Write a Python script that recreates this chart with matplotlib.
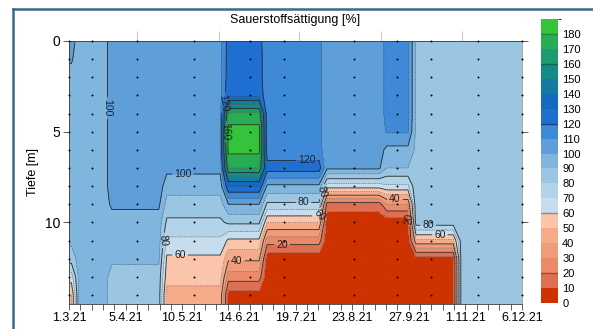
import numpy as np
import pandas as pd
import matplotlib
matplotlib.use("Agg")
import matplotlib.pyplot as plt
import matplotlib.dates as mdates
from matplotlib.colors import ListedColormap, BoundaryNorm
from matplotlib.lines import Line2D

plt.rcParams.update({
    "font.family": ["Liberation Sans", "DejaVu Sans"],
    "font.size": 9,
    "axes.linewidth": 0.6,
})

# ── Data: sampling dates (columns) and depths (rows) ─────────
sample_dates = pd.to_datetime([
    "2021-03-01", "2021-03-15", "2021-04-12", "2021-05-17", "2021-06-21",
    "2021-07-12", "2021-08-24", "2021-09-20", "2021-10-11", "2021-11-09",
    "2021-12-06"])
depths = np.arange(0, 15)

# oxygen saturation [%], depth 0..14 m
o2_0103 = [104, 101, 97, 96, 96, 96, 96, 96, 96, 96, 96, 92, 85, 65, 50]
o2_1503 = [95, 95, 95, 95, 95, 95, 95, 95, 95, 95, 95, 95, 94, 94, 94]
o2_1204 = [106, 106, 106, 106, 106, 106, 106, 106, 106, 102, 95, 94, 92, 86, 85]
o2_1705 = [107, 107, 107, 107, 107, 107, 107, 103, 94, 86, 78, 68, 58, 54, 46]
o2_2106 = [124, 125, 125, 128, 172, 185, 183, 170, 130, 100, 82, 58, 42, 25, 5]
o2_1207 = [112, 112, 112, 112, 112, 112, 113, 125, 98, 78, 50, 25, 3, 2, 2]
o2_2408 = [105, 105, 105, 105, 105, 105, 105, 102, 65, 15, 3, 3, 3, 3, 3]
o2_2009 = [113, 113, 113, 113, 113, 111, 97, 90, 68, 30, 3, 3, 3, 3, 3]
o2_1110 = [88, 88, 88, 88, 88, 88, 88, 88, 88, 88, 86, 48, 5, 3, 3]
o2_0911 = [85, 85, 85, 85, 85, 85, 85, 85, 85, 85, 85, 85, 85, 85, 85]
o2_0612 = [85, 85, 85, 85, 85, 85, 85, 85, 85, 85, 85, 85, 85, 85, 85]

# time extent of each sample block (boundaries between neighbouring samples)
block_edges = pd.to_datetime([
    "2021-03-05", "2021-03-25", "2021-04-28", "2021-06-05", "2021-06-29",
    "2021-08-05", "2021-09-11", "2021-09-29", "2021-10-27", "2021-11-22"])

tick_labels = ["1.3.21", "5.4.21", "10.5.21", "14.6.21", "19.7.21",
               "23.8.21", "27.9.21", "1.11.21", "6.12.21"]
top_ticks = pd.to_datetime(["2021-04-12", "2021-06-02", "2021-07-21",
                            "2021-09-10", "2021-10-30"])

level_colors = [
    "#cc3300", "#df6f52", "#ea8a69", "#f09b79", "#f5ab8a", "#fac5aa",
    "#c7dcec", "#b3d3e8", "#9ac6e1", "#80b6de", "#5e9fd9", "#3f8ad7",
    "#1f6fd2", "#1569bf", "#147a9e", "#168a88", "#1d9b6e", "#28ac54",
    "#33c43c"]
levels = np.arange(0, 200, 10)

# ── Gridding: each sample fills its block, short linear transitions ──
Z = np.column_stack([o2_0103, o2_1503, o2_1204, o2_1705, o2_2106, o2_1207,
                     o2_2408, o2_2009, o2_1110, o2_0911, o2_0612])
xs = mdates.date2num(sample_dates)
xe = mdates.date2num(block_edges)
half = 2.5
gx, gcol = [], []
for i in range(len(xs)):
    lo = xs[0] if i == 0 else xe[i - 1] + half
    hi = xs[-1] if i == len(xs) - 1 else xe[i] - half
    gx += [lo, hi]
    gcol += [i, i]
gx = np.array(gx)
gy = np.append(depths, 14.5)
Zg = Z[:, gcol]
Zg = np.vstack([Zg, Zg[-1]])

# ── Figure ──────────────────────────────────────────────────
W, H = 593, 329
fig = plt.figure(figsize=(W / 100, H / 100), dpi=100)
ax = fig.add_axes([69 / W, 1 - 304 / H, (522 - 69) / W, (304 - 41) / H])

cmap = ListedColormap(level_colors)
norm = BoundaryNorm(levels, cmap.N)
cf = ax.contourf(gx, gy, Zg, levels=levels, cmap=cmap, norm=norm)

ax.contour(gx, gy, Zg, levels=np.arange(10, 190, 20), colors="#4a4a4a",
           linewidths=0.4, linestyles=[(0, (2, 2))])
cs = ax.contour(gx, gy, Zg, levels=np.arange(20, 190, 20), colors="#2a2a2a",
                linewidths=0.6)

# label positions (days after first sample, depth)
lab_pos = [(23.5, 3.7), (94.6, 3.4), (96.8, 5.0), (147, 6.8), (70.5, 7.4),
           (156, 8.3), (145, 9.1), (155, 9.6), (59.3, 11.0), (68.6, 12.0),
           (103.8, 11.8), (131.6, 11.2), (201.5, 8.8), (209.5, 9.8),
           (221.9, 10.3), (229.3, 10.7)]
ax.clabel(cs, manual=[(xs[0] + d, z) for d, z in lab_pos], inline=True,
          inline_spacing=2, fontsize=7.5, fmt="%d", colors="#222222")

# sampling points
XX, YY = np.meshgrid(xs, depths)
ax.scatter(XX.ravel(), YY.ravel(), s=2, c="k", lw=0, clip_on=False, zorder=5)

ax.set_xlim(xs[0], xs[-1])
ax.set_ylim(14.5, 0)
tick_dates = pd.to_datetime(tick_labels, format="%d.%m.%y")
ax.set_xticks(mdates.date2num(tick_dates))
ax.set_xticklabels(tick_labels)
ax.xaxis.set_minor_locator(mdates.WeekdayLocator(byweekday=mdates.MO))
ax.set_yticks([0, 5, 10])
ax.tick_params(axis="x", which="both", length=4, width=0.6, pad=1.5,
               labelsize=9, color="#444444")
ax.tick_params(axis="y", length=4, width=0.6, pad=2, labelsize=10,
               right=True, color="#444444")
for s in ["left", "bottom", "top"]:
    ax.spines[s].set_color("#3a3a3a")
ax.spines["right"].set_color("#9a9a9a")

sec = ax.secondary_xaxis("top")
sec.set_xticks(mdates.date2num(top_ticks))
sec.set_xticklabels([])
sec.tick_params(length=7, width=0.8, color="#c8c8c8")
sec.spines["top"].set_color("#3a3a3a")

# colorbar
cax = fig.add_axes([541 / W, 1 - 303 / H, 17 / W, (303 - 19) / H])
cbar = fig.colorbar(cf, cax=cax, ticks=np.arange(0, 190, 10))
cbar.outline.set_visible(False)
cax.tick_params(length=0, labelsize=8, pad=3)
for v, c in [(20, "#a8452e"), (60, "#8a8a8a"), (120, "#1a3f86"),
             (160, "#10654f"), (180, "#1f8a3a")]:
    cax.axhline(v, color=c, lw=1.0)

fig.text(295.5 / W, 1 - 20 / H, "Sauerstoffsättigung [%]", ha="center",
         va="center", fontsize=9)
fig.text(33 / W, 1 - 172 / H, "Tiefe [m]", rotation=90, ha="center",
         va="center", fontsize=9)

# outer frame of the original figure
fc = "#3b6a84"
fig.add_artist(Line2D([13 / W, 13 / W], [0, 1 - 9 / H], color=fc, lw=1.8))
fig.add_artist(Line2D([13 / W, 1], [1 - 9 / H, 1 - 9 / H], color=fc, lw=1.8))

fig.savefig("out.png", dpi=100)
